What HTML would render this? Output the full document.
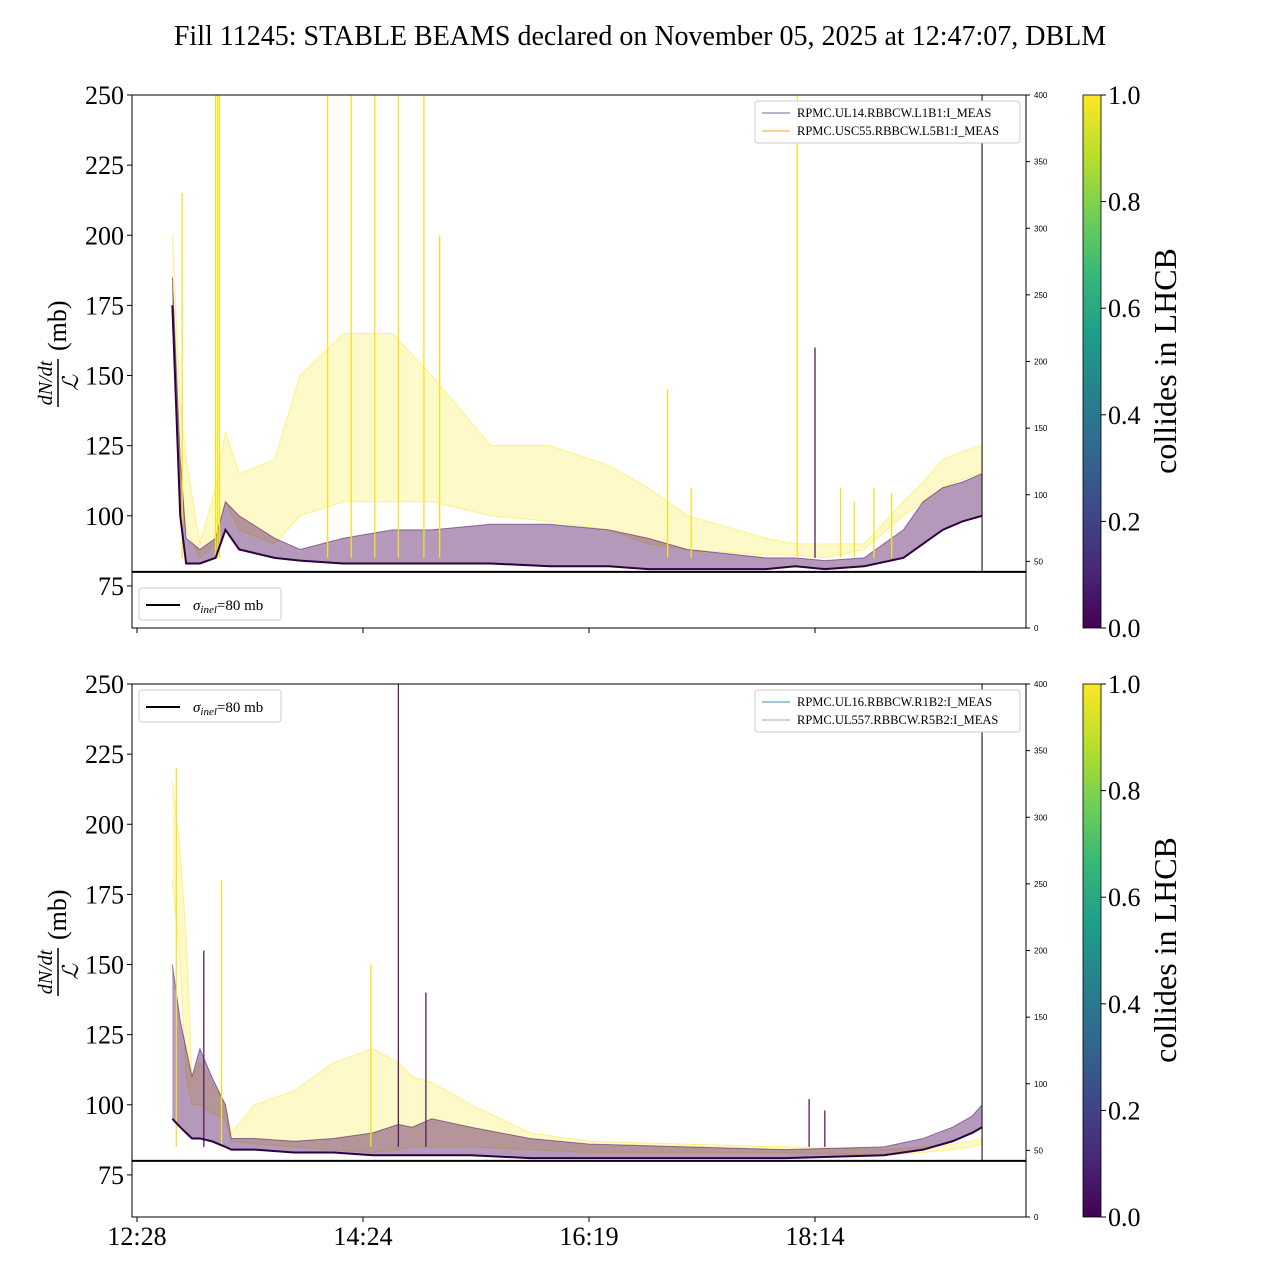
<!DOCTYPE html>
<html><head><meta charset="utf-8">
<style>
html,body{margin:0;padding:0;background:#fff;}
svg{display:block;font-family:"Liberation Serif",serif;}
</style></head>
<body>
<svg id="chart" width="1280" height="1280" viewBox="0 0 1280 1280">
<defs>
<linearGradient id="viridis" x1="0" y1="1" x2="0" y2="0">
<stop offset="0" stop-color="#440154"/><stop offset="0.11" stop-color="#482878"/>
<stop offset="0.22" stop-color="#3e4989"/><stop offset="0.33" stop-color="#31688e"/>
<stop offset="0.44" stop-color="#26828e"/><stop offset="0.55" stop-color="#1f9e89"/>
<stop offset="0.66" stop-color="#35b779"/><stop offset="0.77" stop-color="#6ece58"/>
<stop offset="0.88" stop-color="#b5de2b"/><stop offset="1" stop-color="#fde725"/>
</linearGradient>
</defs>
<text x="640" y="45" text-anchor="middle" font-size="28">Fill 11245: STABLE BEAMS declared on November 05, 2025 at 12:47:07, DBLM</text>
</svg>
<script>
// ---- data (minutes since 12:28, values in mb) ----
const xTickLabels = ["12:28","14:24","16:19","18:14"];
const xTickMinutes = [0,115,230,345];
const yTicks = [75,100,125,150,175,200,225,250];
const rightTicks = [0,50,100,150,200,250,300,350,400];
const cbTicks = [0.0,0.2,0.4,0.6,0.8,1.0];
const sigmaInel = 80;
const endMinute = 430;

const topTimes = [18,22,25,32,40,45,52,70,83,105,130,150,180,210,240,260,280,320,335,350,370,390,400,410,420,430];
const topPurpleLow  = [175,100,83,83,85,95,88,85,84,83,83,83,83,82,82,81,81,81,82,81,82,85,90,95,98,100];
const topPurpleHigh = [185,120,92,88,92,105,100,92,88,92,95,95,97,97,95,92,88,85,85,84,85,95,105,110,112,115];
const topYellowLow  = [170,110,95,85,90,105,95,90,100,105,105,105,100,98,95,90,88,86,86,85,88,100,105,110,113,115];
const topYellowHigh = [200,140,120,90,110,130,115,120,150,165,165,150,125,125,118,110,100,92,90,90,90,105,112,120,123,125];
const topSpikeTimes = [23,40,41,42,97,109,121,133,146,154,270,282,336,345,358,365,375,384];
const topSpikeVals  = [215,250,250,250,250,250,250,250,250,200,145,110,250,160,110,105,110,108];
const topSpikeIsYellow = [1,1,1,1,1,1,1,1,1,1,1,1,1,0,1,1,1,1];

const botTimes = [18,22,25,28,32,38,45,48,60,80,100,120,133,140,150,170,200,230,280,330,380,400,415,425,430];
const botPurpleLow  = [95,92,90,88,88,87,85,84,84,83,83,82,82,82,82,82,81,81,81,81,82,84,87,90,92];
const botPurpleHigh = [150,130,120,110,120,110,100,88,88,87,88,90,93,92,95,92,88,86,85,84,85,88,92,96,100];
const botYellowLow  = [180,150,110,100,100,97,95,87,86,85,84,83,84,85,85,85,84,83,83,83,82,83,84,85,86];
const botYellowHigh = [215,190,160,110,115,108,100,90,100,105,115,120,115,110,108,100,90,87,86,85,84,85,86,87,88];
const botSpikeTimes = [20,34,43,119,133,147,342,350];
const botSpikeVals  = [220,155,180,150,250,140,102,98];
const botSpikeIsYellow = [1,0,1,1,0,0,0,0];

const NS="http://www.w3.org/2000/svg";
const svg=document.getElementById('chart');
function mk(tag,attrs,parent){const e=document.createElementNS(NS,tag);for(const k in attrs)e.setAttribute(k,attrs[k]);(parent||svg).appendChild(e);return e;}

const X0=132,X1=1026,tOrigin=137,pxPerMin=226/115;
function xs(t){return tOrigin+t*pxPerMin;}

function panel(top,name,times,pl,ph,yl,yh,spT,spV,spY,legendTopLeft,legendNames){
  const bottom=top+533;
  function ys(v){return bottom-(v-60)*(533/190);}
  function yr(v){return bottom-v*(533/400);}
  const g=mk('g',{});
  
  
  const clip=mk('clipPath',{id:name+'clip'},g);mk('rect',{x:X0,y:top,width:X1-X0,height:533},clip);
  const data=mk('g',{'clip-path':'url(#'+name+'clip)'},g);
  function band(lo,hi,color,op,nm){
    let d='M'+times.map((t,i)=>xs(t)+','+ys(hi[i])).join('L');
    for(let i=times.length-1;i>=0;i--)d+='L'+xs(times[i])+','+ys(lo[i]);
    const p=mk('path',{d:d+'Z',fill:color,'fill-opacity':op,stroke:'none'},data);
    
    
    [lo,hi].forEach(arr=>{
      const l=mk('polyline',{points:times.map((t,i)=>xs(t)+','+ys(arr[i])).join(' '),fill:'none',stroke:color,'stroke-width':1,'stroke-opacity':0.5},data);
      
      
    });
  }
  band(yl,yh,'#fde725',0.25,name+'-yellow');
  band(pl,ph,'#440154',0.4,name+'-purple');
  spT.forEach((t,i)=>{
    const c=spY[i]?'#f5e21f':'#5a1a5e';
    const l=mk('line',{x1:xs(t),x2:xs(t),y1:ys(85),y2:ys(spV[i]),stroke:c,'stroke-width':1.3},data);
    
    
  });
  const bl=mk('polyline',{points:times.map((t,i)=>xs(t)+','+ys(pl[i])).join(' '),fill:'none',stroke:'#2d0040','stroke-width':2},data);
  
  
  const vl=mk('line',{x1:xs(endMinute),x2:xs(endMinute),y1:top,y2:ys(sigmaInel),stroke:'#000','stroke-width':1},g);
  
  
  const sl=mk('line',{x1:X0,x2:X1,y1:ys(sigmaInel),y2:ys(sigmaInel),stroke:'#000','stroke-width':2},g);
  
  
  const fr=mk('rect',{x:X0,y:top,width:X1-X0,height:533,fill:'none',stroke:'#000','stroke-width':1},g);
  
  
  yTicks.forEach(v=>{
    mk('line',{x1:X0-5,x2:X0,y1:ys(v),y2:ys(v),stroke:'#000'},g);
    const t=mk('text',{x:X0-8,y:ys(v)+9,'text-anchor':'end','font-size':26},g);t.textContent=v;
    
    
  });
  rightTicks.forEach(v=>{
    mk('line',{x1:X1,x2:X1+4,y1:yr(v),y2:yr(v),stroke:'#000'},g);
    const t=mk('text',{x:X1+8,y:yr(v)+3,'font-size':8,'font-family':'Liberation Sans, sans-serif'},g);t.textContent=v;
    
    
  });
  xTickMinutes.forEach((m,i)=>{
    mk('line',{x1:xs(m),x2:xs(m),y1:bottom,y2:bottom+5,stroke:'#000'},g);
    if(name==='bottom'){const t=mk('text',{x:xs(m),y:bottom+28,'text-anchor':'middle','font-size':26},g);t.textContent=xTickLabels[i];
      
      }
  });
  const cy=top+266;
  const yl2=mk('g',{transform:'translate(58,'+cy+') rotate(-90)'},g);
  
  
  let t=mk('text',{x:-22,y:-6,'text-anchor':'middle','font-size':20,'font-style':'italic'},yl2);t.textContent='dN/dt';
  mk('line',{x1:-46,x2:2,y1:0,y2:0,stroke:'#000','stroke-width':1.5},yl2);
  t=mk('text',{x:-22,y:20,'text-anchor':'middle','font-size':22,'font-style':'italic'},yl2);t.textContent='ℒ';
  t=mk('text',{x:10,y:8,'font-size':26},yl2);t.textContent='(mb)';
  const lr=mk('g',{},g);
  
  
  mk('rect',{x:755,y:top+6,width:265,height:42,rx:3,fill:'#fff',stroke:'#ccc'},lr);
  legendNames.forEach((n,i)=>{
    const yy=top+18+i*18;
    mk('line',{x1:762,x2:790,y1:yy,y2:yy,stroke:n[1],'stroke-width':1},lr);
    const tt=mk('text',{x:797,y:yy+4,'font-size':12.5},lr);tt.textContent=n[0];
  });
  const sgY=legendTopLeft?top+6:top+493;
  const ls=mk('g',{},g);
  
  
  mk('rect',{x:139,y:sgY,width:142,height:32,rx:3,fill:'#fff',stroke:'#ccc'},ls);
  mk('line',{x1:146,x2:180,y1:sgY+17,y2:sgY+17,stroke:'#000','stroke-width':2},ls);
  const st=mk('text',{x:193,y:sgY+22,'font-size':15},ls);
  st.innerHTML='<tspan font-style="italic">σ</tspan><tspan font-size="11" dy="3" font-style="italic">inel</tspan><tspan dy="-3">=80 mb</tspan>';
  const cb=mk('g',{},g);
  
  
  mk('rect',{x:1083,y:top,width:18,height:533,fill:'url(#viridis)',stroke:'#000','stroke-width':0.8},cb);
  cbTicks.forEach(v=>{
    const yy=bottom-v*533;
    mk('line',{x1:1101,x2:1106,y1:yy,y2:yy,stroke:'#000'},cb);
    const tt=mk('text',{x:1108,y:yy+9,'font-size':26},cb);tt.textContent=v.toFixed(1);
  });
  const cl=mk('text',{x:0,y:0,'text-anchor':'middle','font-size':32,transform:'translate(1176,'+cy+') rotate(-90)'},cb);
  cl.textContent='collides in LHCB';
}
panel(95,'top',topTimes,topPurpleLow,topPurpleHigh,topYellowLow,topYellowHigh,topSpikeTimes,topSpikeVals,topSpikeIsYellow,false,
  [['RPMC.UL14.RBBCW.L1B1:I_MEAS','#6a6aa8'],['RPMC.USC55.RBBCW.L5B1:I_MEAS','#f0a030']]);
panel(684,'bottom',botTimes,botPurpleLow,botPurpleHigh,botYellowLow,botYellowHigh,botSpikeTimes,botSpikeVals,botSpikeIsYellow,true,
  [['RPMC.UL16.RBBCW.R1B2:I_MEAS','#4a90c8'],['RPMC.UL557.RBBCW.R5B2:I_MEAS','#b0a0b8']]);
</script>
</body></html>
